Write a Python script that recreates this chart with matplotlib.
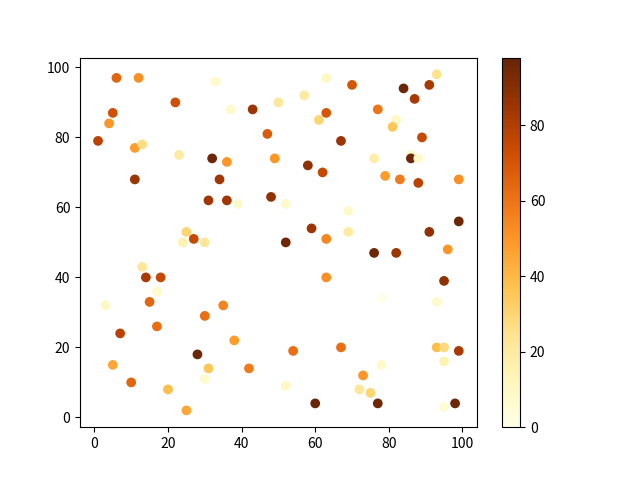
import matplotlib
matplotlib.use('Agg')
import matplotlib.pyplot as plt

plt.rcParams['font.family'] = ['Noto Sans CJK SC', 'DejaVu Sans']

# 点的横坐标 / 纵坐标 / 颜色值
x = [6, 12, 33, 22, 37, 43, 50, 5, 4, 47,
     1, 11, 13, 23, 32, 36, 49, 11, 34, 31,
     36, 39, 48, 25, 27, 24, 30, 63, 70, 84,
     91, 93, 87, 57, 63, 61, 77, 82, 81, 89,
     67, 58, 62, 76, 86, 86, 88, 79, 83, 88,
     99, 52, 69, 69, 59, 63, 52, 91, 99, 96,
     13, 14, 18, 17, 3, 15, 35, 30, 17, 7,
     38, 28, 5, 31, 42, 30, 10, 20, 25, 76,
     82, 63, 95, 78, 93, 54, 67, 93, 95, 99,
     95, 78, 73, 52, 72, 75, 60, 77, 98, 95]
y = [97, 97, 96, 90, 88, 88, 90, 87, 84, 81,
     79, 77, 78, 75, 74, 73, 74, 68, 68, 62,
     62, 61, 63, 53, 51, 50, 50, 97, 95, 94,
     95, 98, 91, 92, 87, 85, 88, 85, 83, 80,
     79, 72, 70, 74, 75, 74, 74, 69, 68, 67,
     68, 61, 59, 53, 54, 51, 50, 53, 56, 48,
     43, 40, 40, 36, 32, 33, 32, 29, 26, 24,
     22, 18, 15, 14, 14, 11, 10, 8, 2, 47,
     47, 40, 39, 34, 33, 19, 20, 20, 20, 19,
     16, 15, 12, 9, 8, 7, 4, 4, 4, 3]
c = [65, 52, 8, 72, 8, 85, 22, 72, 50, 68,
     78, 48, 27, 20, 96, 50, 50, 85, 84, 84,
     84, 8, 87, 30, 75, 15, 22, 10, 70, 96,
     82, 25, 82, 20, 70, 30, 60, 10, 35, 75,
     85, 88, 75, 18, 8, 96, 8, 48, 58, 78,
     52, 8, 8, 20, 85, 55, 96, 88, 96, 50,
     22, 82, 75, 8, 10, 65, 55, 62, 62, 78,
     48, 96, 45, 35, 58, 8, 65, 38, 45, 96,
     85, 52, 88, 0, 8, 62, 62, 38, 28, 82,
     15, 8, 50, 10, 22, 30, 98, 96, 96, 5]

fig = plt.figure(figsize=(6.4, 4.8), dpi=100)
sc = plt.scatter(x, y, c=c, cmap='YlOrBr')
plt.colorbar(sc)
plt.savefig('out.png')
